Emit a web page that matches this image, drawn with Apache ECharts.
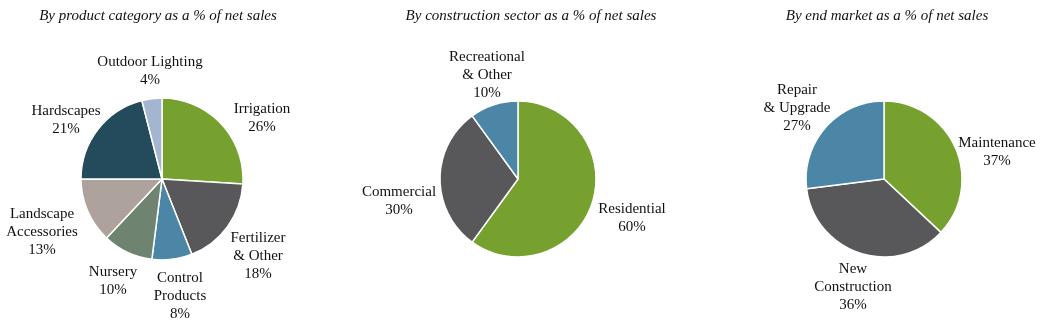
<!DOCTYPE html>
<html><head><meta charset="utf-8">
<script src="https://cdn.jsdelivr.net/npm/echarts@6/dist/echarts.min.js"></script>
<style>html,body{margin:0;padding:0;background:#fff}#c{width:1040px;height:326px}</style>
</head><body><div id="c"></div>
<script>
// Data
const titles = ['By product category as a % of net sales','By construction sector as a % of net sales','By end market as a % of net sales'];
const productCats = ['Irrigation','Fertilizer\n& Other','Control\nProducts','Nursery','Landscape\nAccessories','Hardscapes','Outdoor Lighting'];
const productVals = [26,18,8,10,13,21,4];
const sectorCats = ['Residential','Commercial','Recreational\n& Other'];
const sectorVals = [60,30,10];
const marketCats = ['Maintenance','New\nConstruction','Repair\n& Upgrade'];
const marketVals = [37,36,27];

// Styles / layout
const productColors = ['#76A12F','#58585A','#4B86A7','#6E8471','#ADA39C','#234B5B','#A3B5D0'];
const sectorColors = ['#76A12F','#58585A','#4B86A7'];
const marketColors = ['#76A12F','#58585A','#4B86A7'];
const productLabelPos = [[262,118],[258,256],[180,296],[113,281],[42,232],[66,120],[150,71]];
const sectorLabelPos = [[632,218],[399,201],[487,75]];
const marketLabelPos = [[997,152],[853,287],[797,108]];

function mk(cats, vals, colors){ return cats.map((c,i)=>({name:c, value:vals[i], itemStyle:{color:colors[i]}})); }
function series(data, center, r, pos){
  return {
    type:'pie', center:center, radius:r, startAngle:90, clockwise:true, animation:false,
    itemStyle:{borderColor:'#fff', borderWidth:1.5},
    label:{show:true, position:'outside', overflow:'none', formatter:p=>p.name+'\n'+p.value+'%', fontFamily:'Liberation Serif', fontSize:15, lineHeight:18, color:'#111', align:'center'},
    labelLine:{show:false},
    labelLayout:p=>({x:pos[p.dataIndex][0], y:pos[p.dataIndex][1], align:'center', verticalAlign:'middle', width:200}),
    emphasis:{disabled:true},
    data:data
  };
}
const tStyle = {fontFamily:'Liberation Serif', fontStyle:'italic', fontWeight:'normal', fontSize:15, color:'#111'};
const chart = echarts.init(document.getElementById('c'));
chart.setOption({
  title:[
    {text:titles[0], left:153, top:4, textAlign:'center', textStyle:tStyle},
    {text:titles[1], left:526, top:4, textAlign:'center', textStyle:tStyle},
    {text:titles[2], left:882, top:4, textAlign:'center', textStyle:tStyle}
  ],
  series:[
    series(mk(productCats,productVals,productColors),[162,179],81,productLabelPos),
    series(mk(sectorCats,sectorVals,sectorColors),[518,179],78,sectorLabelPos),
    series(mk(marketCats,marketVals,marketColors),[884,179],78,marketLabelPos)
  ]
});
</script></body></html>
